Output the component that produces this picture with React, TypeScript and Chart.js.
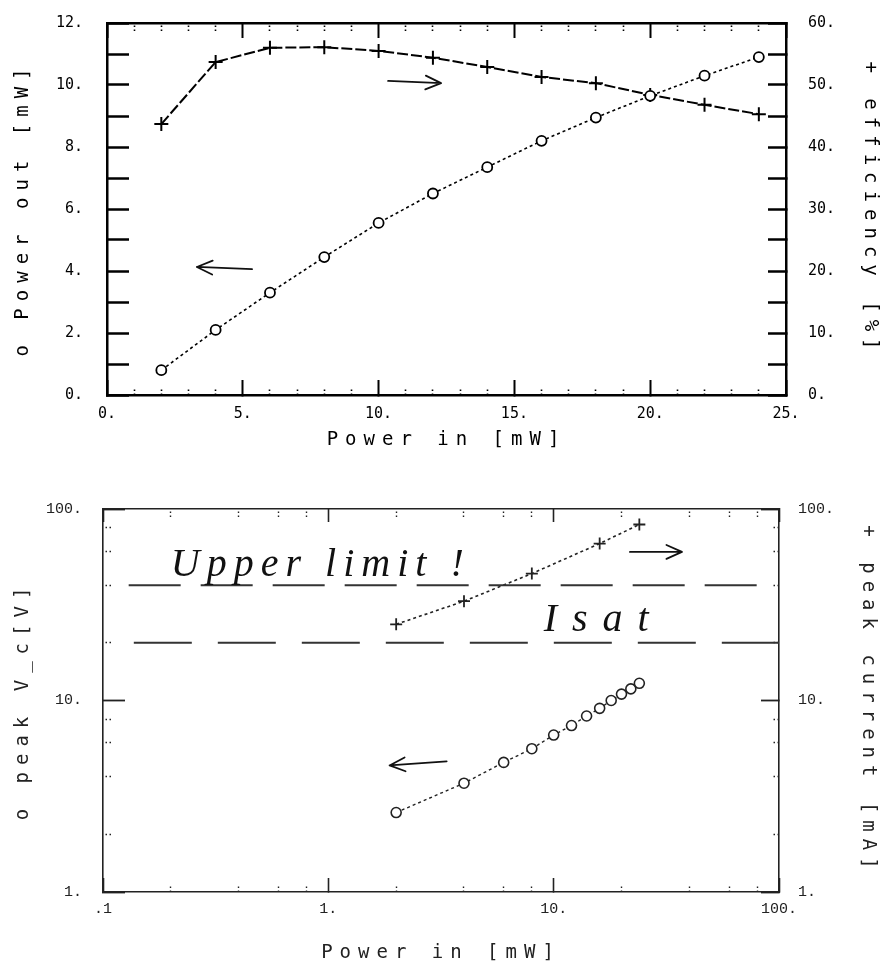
import { useEffect, useRef } from 'react';
import { Chart, registerables } from 'chart.js';

Chart.register(...registerables);

// ---------- Top chart: output power & efficiency vs input power ----------
const POWER_IN = [2, 4, 6, 8, 10, 12, 14, 16, 18, 20, 22, 24];
const POWER_OUT = [0.8, 2.1, 3.3, 4.45, 5.55, 6.5, 7.35, 8.2, 8.95, 9.65, 10.3, 10.9];
const EFFICIENCY = [43.7, 53.7, 56.0, 56.1, 55.5, 54.4, 52.9, 51.3, 50.3, 48.4, 46.8, 45.3];

const TOP_X_TICKS = [0, 5, 10, 15, 20, 25];
const TOP_X_LABELS = ['0.', '5.', '10.', '15.', '20.', '25.'];
const TOP_X_MINOR = [1, 2, 3, 4, 6, 7, 8, 9, 11, 12, 13, 14, 16, 17, 18, 19, 21, 22, 23, 24];
const TOP_Y_TICKS = [0, 1, 2, 3, 4, 5, 6, 7, 8, 9, 10, 11, 12];
const TOP_Y_LABELS = ['0.', '', '2.', '', '4.', '', '6.', '', '8.', '', '10.', '', '12.'];
const TOP_Y2_TICKS = [0, 5, 10, 15, 20, 25, 30, 35, 40, 45, 50, 55, 60];
const TOP_Y2_LABELS = ['0.', '', '10.', '', '20.', '', '30.', '', '40.', '', '50.', '', '60.'];

// ---------- Bottom chart: peak voltage & current (log-log) ----------
const PEAK_V_X = [2, 4, 6, 8, 10, 12, 14, 16, 18, 20, 22, 24];
const PEAK_V = [2.6, 3.7, 4.75, 5.6, 6.6, 7.4, 8.3, 9.1, 10.0, 10.8, 11.5, 12.3];
const PEAK_I_X = [2, 4, 8, 16, 24];
const PEAK_I = [25, 33, 46, 66, 83];
const UPPER_LIMIT_X = [0.13, 90];
const UPPER_LIMIT = [40, 40];
const ISAT_X = [0.137, 100];
const ISAT = [20, 20];

const LOG_X_MAJOR = [0.1, 1, 10, 100];
const LOG_X_LABELS = ['.1', '1.', '10.', '100.'];
const LOG_X_MINOR = [0.2, 0.4, 0.6, 0.8, 2, 4, 6, 8, 20, 40, 60, 80];
const LOG_Y_MAJOR = [1, 10, 100];
const LOG_Y_LABELS = ['1.', '10.', '100.'];
const LOG_Y_MINOR = [2, 4, 6, 8, 20, 40, 60, 80];

// ---------- Hand-written annotations (data coordinates) ----------
const TOP_ARROWS = [
  { x1: 10.35, y1: 10.13, x2: 12.3, y2: 10.06 },
  { x1: 5.34, y1: 4.06, x2: 3.31, y2: 4.13 },
];
const BOTTOM_ARROWS = [
  { x1: 21.8, y1: 59.7, x2: 37.1, y2: 59.7 },
  { x1: 3.35, y1: 4.81, x2: 1.87, y2: 4.58 },
];
const BOTTOM_NOTES = [
  { text: 'Upper limit !', x: 0.2, y: 44.8, size: 40, spacing: 7 },
  { text: 'Isat', x: 9.03, y: 23.2, size: 40, spacing: 15 },
];

const TITLE_FONT = { family: "'DejaVu Sans Mono', monospace", size: 19 };
const TOP_TICK_FONT = { family: "'DejaVu Sans Mono', monospace", size: 15 };
const BOTTOM_TICK_FONT = { family: "'Liberation Mono', monospace", size: 15 };

function lookup(values: number[], labels: string[]) {
  return (v: any) => {
    const i = values.findIndex((t) => Math.abs(t - Number(v)) < 1e-9);
    return i >= 0 ? labels[i] : '';
  };
}

type AxisOpts = {
  type: 'linear' | 'logarithmic';
  position: 'left' | 'right' | 'top' | 'bottom';
  min: number;
  max: number;
  values: number[];
  labels?: string[];
  size: number;
  weight: number;
  tickLen: number;
  tickWidth: number;
  dotted?: boolean;
  borderWidth?: number;
  padding?: number;
  font?: any;
  color: string;
  title?: any;
};

function makeAxis(o: AxisOpts) {
  const horizontal = o.position === 'top' || o.position === 'bottom';
  const ticks: any = {
    display: !!o.labels,
    autoSkip: false,
    maxRotation: 0,
    minRotation: 0,
    padding: o.padding ?? 0,
    z: 1,
    color: o.color,
  };
  if (o.font) ticks.font = o.font;
  if (o.labels) ticks.callback = lookup(o.values, o.labels);
  return {
    type: o.type,
    position: o.position,
    min: o.min,
    max: o.max,
    weight: o.weight,
    afterBuildTicks: (s: any) => {
      s.ticks = o.values.map((v) => ({ value: v }));
    },
    afterFit: (s: any) => {
      if (horizontal) s.height = o.size;
      else s.width = o.size;
      s.paddingTop = 0;
      s.paddingBottom = 0;
      s.paddingLeft = 0;
      s.paddingRight = 0;
    },
    grid: {
      display: true,
      drawOnChartArea: false,
      drawTicks: true,
      tickLength: -o.tickLen,
      tickWidth: o.tickWidth,
      tickColor: o.color,
      tickBorderDash: o.dotted ? [1.5, 2.5] : [],
    },
    border: { display: !!o.borderWidth, width: o.borderWidth || 1, color: o.color },
    ticks,
    title: o.title ?? { display: false },
  };
}

const spacingPlugin = {
  id: 'titleSpacing',
  beforeDraw(chart: any) {
    chart.ctx.letterSpacing = '7px';
  },
  beforeDatasetsDraw(chart: any) {
    chart.ctx.letterSpacing = '0px';
  },
  afterDraw(chart: any) {
    chart.ctx.letterSpacing = '0px';
  },
};

function notesPlugin(xId: string, yId: string, arrows: any[], notes: any[]) {
  return {
    id: 'notes',
    afterDatasetsDraw(chart: any) {
      const xs = chart.scales[xId];
      const ys = chart.scales[yId];
      const ctx = chart.ctx;
      ctx.save();
      ctx.strokeStyle = '#111';
      ctx.fillStyle = '#111';
      ctx.lineWidth = 1.8;
      ctx.lineCap = 'round';
      ctx.lineJoin = 'round';
      arrows.forEach((a) => {
        const px1 = xs.getPixelForValue(a.x1);
        const py1 = ys.getPixelForValue(a.y1);
        const px2 = xs.getPixelForValue(a.x2);
        const py2 = ys.getPixelForValue(a.y2);
        const ang = Math.atan2(py2 - py1, px2 - px1);
        const L = 17;
        const sp = 0.42;
        ctx.beginPath();
        ctx.moveTo(px1, py1);
        ctx.lineTo(px2, py2);
        ctx.moveTo(px2 - L * Math.cos(ang - sp), py2 - L * Math.sin(ang - sp));
        ctx.lineTo(px2, py2);
        ctx.lineTo(px2 - L * Math.cos(ang + sp), py2 - L * Math.sin(ang + sp));
        ctx.stroke();
      });
      notes.forEach((n) => {
        ctx.font = `italic ${n.size}px 'Liberation Serif', serif`;
        ctx.letterSpacing = `${n.spacing}px`;
        ctx.textAlign = 'left';
        ctx.textBaseline = 'alphabetic';
        ctx.fillText(n.text, xs.getPixelForValue(n.x), ys.getPixelForValue(n.y));
      });
      ctx.restore();
    },
  };
}

function xy(xs: number[], ys: number[]) {
  return xs.map((x, i) => ({ x, y: ys[i] }));
}

export default function App() {
  const topRef = useRef<HTMLCanvasElement>(null);
  const botRef = useRef<HTMLCanvasElement>(null);

  useEffect(() => {
    document.body.style.margin = '0';
    const black = '#000';
    const grey = '#222';

    const top = new Chart(topRef.current as HTMLCanvasElement, {
      type: 'line',
      data: {
        datasets: [
          {
            label: 'Power out',
            data: xy(POWER_IN, POWER_OUT),
            xAxisID: 'x',
            yAxisID: 'y',
            borderColor: black,
            borderWidth: 1.6,
            borderDash: [3, 3],
            pointStyle: 'circle',
            pointRadius: 5,
            pointBorderWidth: 1.8,
            pointBorderColor: black,
            pointBackgroundColor: '#fff',
            tension: 0,
          },
          {
            label: 'efficiency',
            data: xy(POWER_IN, EFFICIENCY),
            xAxisID: 'x',
            yAxisID: 'y2',
            borderColor: black,
            borderWidth: 2,
            borderDash: [11, 3],
            pointStyle: 'cross',
            pointRadius: 7,
            pointBorderWidth: 2,
            pointBorderColor: black,
            tension: 0,
          },
        ] as any,
      },
      options: {
        animation: false,
        responsive: false,
        events: [],
        layout: { padding: 0, autoPadding: false },
        plugins: { legend: { display: false }, tooltip: { enabled: false } },
        scales: {
          x: makeAxis({
            type: 'linear', position: 'bottom', min: 0, max: 25, values: TOP_X_TICKS, labels: TOP_X_LABELS,
            size: 67, weight: 1, tickLen: 15, tickWidth: 2, borderWidth: 2.5, padding: 25, font: TOP_TICK_FONT, color: black,
            title: { display: true, text: 'Power in [mW]', font: TITLE_FONT, color: black, padding: { top: 0, bottom: 11 } },
          }),
          xMinor: makeAxis({
            type: 'linear', position: 'bottom', min: 0, max: 25, values: TOP_X_MINOR,
            size: 0, weight: 0, tickLen: 8, tickWidth: 1.6, dotted: true, color: black,
          }),
          xTop: makeAxis({
            type: 'linear', position: 'top', min: 0, max: 25, values: TOP_X_TICKS,
            size: 23, weight: 1, tickLen: 15, tickWidth: 2, borderWidth: 2.5, color: black,
          }),
          xTopMinor: makeAxis({
            type: 'linear', position: 'top', min: 0, max: 25, values: TOP_X_MINOR,
            size: 0, weight: 0, tickLen: 8, tickWidth: 1.6, dotted: true, color: black,
          }),
          y: makeAxis({
            type: 'linear', position: 'left', min: 0, max: 12, values: TOP_Y_TICKS, labels: TOP_Y_LABELS,
            size: 107, weight: 1, tickLen: 22, tickWidth: 2.5, borderWidth: 2.5, padding: 46, font: TOP_TICK_FONT, color: black,
            title: { display: true, text: 'o Power out [mW]', font: TITLE_FONT, color: black, padding: { top: 12, bottom: 0 } },
          }),
          y2: makeAxis({
            type: 'linear', position: 'right', min: 0, max: 60, values: TOP_Y2_TICKS, labels: TOP_Y2_LABELS,
            size: 96, weight: 1, tickLen: 18, tickWidth: 2.5, borderWidth: 2.5, padding: 40, font: TOP_TICK_FONT, color: black,
            title: { display: true, text: '+ efficiency [%]', font: TITLE_FONT, color: black, padding: { top: 1, bottom: 0 } },
          }),
        } as any,
      },
      plugins: [spacingPlugin, notesPlugin('x', 'y', TOP_ARROWS, [])],
    });

    const bottom = new Chart(botRef.current as HTMLCanvasElement, {
      type: 'line',
      data: {
        datasets: [
          {
            label: 'Upper limit',
            data: xy(UPPER_LIMIT_X, UPPER_LIMIT),
            xAxisID: 'x',
            yAxisID: 'y',
            borderColor: '#333',
            borderWidth: 2,
            borderDash: [52, 20],
            pointRadius: 0,
          },
          {
            label: 'Isat',
            data: xy(ISAT_X, ISAT),
            xAxisID: 'x',
            yAxisID: 'y',
            borderColor: '#333',
            borderWidth: 2,
            borderDash: [58, 26],
            pointRadius: 0,
          },
          {
            label: 'peak V_c',
            data: xy(PEAK_V_X, PEAK_V),
            xAxisID: 'x',
            yAxisID: 'y',
            borderColor: grey,
            borderWidth: 1.4,
            borderDash: [3, 3],
            pointStyle: 'circle',
            pointRadius: 5,
            pointBorderWidth: 1.6,
            pointBorderColor: grey,
            pointBackgroundColor: '#fff',
            tension: 0,
          },
          {
            label: 'peak current',
            data: xy(PEAK_I_X, PEAK_I),
            xAxisID: 'x',
            yAxisID: 'y2',
            borderColor: grey,
            borderWidth: 1.6,
            borderDash: [3, 3],
            pointStyle: 'cross',
            pointRadius: 6,
            pointBorderWidth: 1.8,
            pointBorderColor: grey,
            tension: 0,
          },
        ] as any,
      },
      options: {
        animation: false,
        responsive: false,
        events: [],
        layout: { padding: 0, autoPadding: false },
        plugins: { legend: { display: false }, tooltip: { enabled: false } },
        scales: {
          x: makeAxis({
            type: 'logarithmic', position: 'bottom', min: 0.1, max: 100, values: LOG_X_MAJOR, labels: LOG_X_LABELS,
            size: 78, weight: 1, tickLen: 14, tickWidth: 1.6, borderWidth: 1.6, padding: 22, font: BOTTOM_TICK_FONT, color: grey,
            title: { display: true, text: 'Power in [mW]', font: TITLE_FONT, color: grey, padding: { top: 0, bottom: 6 } },
          }),
          xMinor: makeAxis({
            type: 'logarithmic', position: 'bottom', min: 0.1, max: 100, values: LOG_X_MINOR,
            size: 0, weight: 0, tickLen: 8, tickWidth: 1.4, dotted: true, color: grey,
          }),
          xTop: makeAxis({
            type: 'logarithmic', position: 'top', min: 0.1, max: 100, values: LOG_X_MAJOR,
            size: 47, weight: 1, tickLen: 13, tickWidth: 1.6, borderWidth: 1.6, color: grey,
          }),
          xTopMinor: makeAxis({
            type: 'logarithmic', position: 'top', min: 0.1, max: 100, values: LOG_X_MINOR,
            size: 0, weight: 0, tickLen: 8, tickWidth: 1.4, dotted: true, color: grey,
          }),
          y: makeAxis({
            type: 'logarithmic', position: 'left', min: 1, max: 100, values: LOG_Y_MAJOR, labels: LOG_Y_LABELS,
            size: 103, weight: 1, tickLen: 22, tickWidth: 1.8, borderWidth: 1.6, padding: 43, font: BOTTOM_TICK_FONT, color: grey,
            title: { display: true, text: 'o peak V_c[V]', font: TITLE_FONT, color: grey, padding: { top: 12, bottom: 0 } },
          }),
          yMinor: makeAxis({
            type: 'logarithmic', position: 'left', min: 1, max: 100, values: LOG_Y_MINOR,
            size: 0, weight: 0, tickLen: 8, tickWidth: 1.4, dotted: true, color: grey,
          }),
          y2: makeAxis({
            type: 'logarithmic', position: 'right', min: 1, max: 100, values: LOG_Y_MAJOR, labels: LOG_Y_LABELS,
            size: 103, weight: 1, tickLen: 18, tickWidth: 1.8, borderWidth: 1.6, padding: 37, font: BOTTOM_TICK_FONT, color: grey,
            title: { display: true, text: '+ peak current [mA]', font: TITLE_FONT, color: grey, padding: { top: 3, bottom: 0 } },
          }),
          y2Minor: makeAxis({
            type: 'logarithmic', position: 'right', min: 1, max: 100, values: LOG_Y_MINOR,
            size: 0, weight: 0, tickLen: 8, tickWidth: 1.4, dotted: true, color: grey,
          }),
        } as any,
      },
      plugins: [spacingPlugin, notesPlugin('x', 'y', BOTTOM_ARROWS, BOTTOM_NOTES)],
    });

    return () => {
      top.destroy();
      bottom.destroy();
    };
  }, []);

  return (
    <div style={{ width: 882, background: '#fff' }}>
      <canvas ref={topRef} width={882} height={462} style={{ display: 'block' }} />
      <canvas ref={botRef} width={882} height={508} style={{ display: 'block' }} />
    </div>
  );
}
